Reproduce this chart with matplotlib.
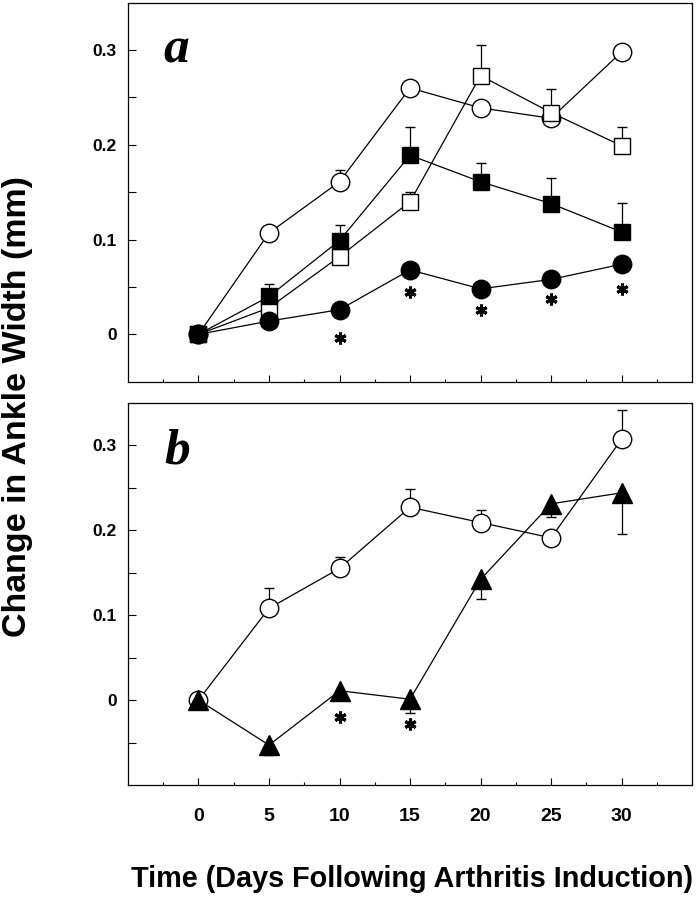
import matplotlib.pyplot as plt
from matplotlib.ticker import FixedLocator

plt.rcParams['font.family'] = ['Liberation Sans', 'DejaVu Sans']

days = [0, 5, 10, 15, 20, 25, 30]

# panel a
a_open_circle = [0, 0.107, 0.161, 0.260, 0.239, 0.228, 0.298]
a_open_circle_up = [0, 0, 0.012, 0, 0, 0, 0]
a_open_square = [0, 0.028, 0.082, 0.140, 0.273, 0.234, 0.199]
a_open_square_up = [0, 0, 0, 0.010, 0.032, 0.025, 0.020]
a_filled_circle = [0, 0.014, 0.026, 0.068, 0.048, 0.058, 0.074]
a_filled_square = [0, 0.040, 0.099, 0.189, 0.161, 0.138, 0.108]
a_filled_square_up = [0, 0.013, 0.016, 0.030, 0.020, 0.027, 0.031]
a_star_days = [10, 15, 20, 25, 30]
a_star_y = [-0.004, 0.045, 0.026, 0.037, 0.048]

# panel b
b_open_circle = [0, 0.108, 0.155, 0.227, 0.209, 0.191, 0.307]
b_open_circle_up = [0, 0.024, 0.013, 0.021, 0.015, 0, 0.035]
b_triangle = [0, -0.053, 0.011, 0.001, 0.142, 0.231, 0.244]
b_triangle_down = [0, 0.012, 0.011, 0.016, 0.023, 0.016, 0.049]
b_star_days = [10, 15]
b_star_y = [-0.020, -0.028]

x_ticks = [0, 5, 10, 15, 20, 25, 30]
x_minor = [-2.5, 2.5, 7.5, 12.5, 17.5, 22.5, 27.5, 32.5]
y_ticks = [0, 0.1, 0.2, 0.3]
y_tick_labels = ['0', '0.1', '0.2', '0.3']

fig = plt.figure(figsize=(6.99, 8.99), dpi=100)
ax1 = fig.add_axes([0.1831, 0.5754, 0.807, 0.4216])
ax2 = fig.add_axes([0.1831, 0.1268, 0.807, 0.4252])


def series(ax, y, lo, hi, marker, filled, ms, z):
    ax.errorbar(days, y, yerr=[lo, hi], fmt='-', marker=marker, color='black',
                mfc='black' if filled else 'white', mec='black', ms=ms, mew=1.0,
                lw=0.9, elinewidth=0.9, capsize=3.5, capthick=0.9, zorder=z)


zero = [0] * 7
series(ax1, a_open_circle, zero, a_open_circle_up, 'o', False, 13.3, 2)
series(ax1, a_open_square, zero, a_open_square_up, 's', False, 11, 3)
series(ax1, a_filled_circle, zero, zero, 'o', True, 13.3, 4)
series(ax1, a_filled_square, zero, a_filled_square_up, 's', True, 11, 5)
ax1.plot(a_star_days, a_star_y, ls='none', marker=(6, 2, 0), ms=8.5, mew=2.2, color='black')

series(ax2, b_open_circle, zero, b_open_circle_up, 'o', False, 13.3, 2)
series(ax2, b_triangle, b_triangle_down, zero, '^', True, 15, 3)
ax2.plot(b_star_days, b_star_y, ls='none', marker=(6, 2, 0), ms=8.5, mew=2.2, color='black')

ax1.set_ylim(-0.05, 0.35)
ax2.set_ylim(-0.1, 0.35)
ax1.yaxis.set_minor_locator(FixedLocator([0.05, 0.15, 0.25]))
ax2.yaxis.set_minor_locator(FixedLocator([-0.05, 0.05, 0.15, 0.25]))

for ax in (ax1, ax2):
    ax.set_xlim(-5, 35)
    ax.set_xticks(x_ticks)
    ax.xaxis.set_minor_locator(FixedLocator(x_minor))
    ax.set_yticks(y_ticks)
    ax.set_yticklabels(y_tick_labels, fontsize=12.5, fontweight='bold')
    ax.tick_params(axis='y', which='both', direction='in', length=6, width=0.8, pad=8)
    ax.tick_params(axis='x', which='major', direction='in', length=5, width=0.8, pad=16.5)
    ax.tick_params(axis='x', which='minor', direction='in', length=2.5, width=0.8)
    for s in ax.spines.values():
        s.set_linewidth(0.9)

ax1.set_xticklabels([])
ax2.set_xticklabels([str(d) for d in x_ticks], fontsize=14, fontweight='bold')

ax1.text(0.062, 0.843, 'a', transform=ax1.transAxes, fontsize=37, fontweight='bold',
         fontstyle='italic', family=['Liberation Serif', 'DejaVu Serif'], va='baseline')
ax2.text(0.065, 0.842, 'b', transform=ax2.transAxes, fontsize=37, fontweight='bold',
         fontstyle='italic', family=['Liberation Serif', 'DejaVu Serif'], va='baseline')

fig.text(412 / 699, 1 - 887 / 899, 'Time (Days Following Arthritis Induction)',
         fontsize=20.8, fontweight='bold', ha='center', va='baseline')
fig.text(18 / 699, 1 - 406.5 / 899, 'Change in Ankle Width (mm)', rotation=90,
         fontsize=24.5, fontweight='bold', ha='center', va='center')

plt.savefig('out.png', dpi=100)
